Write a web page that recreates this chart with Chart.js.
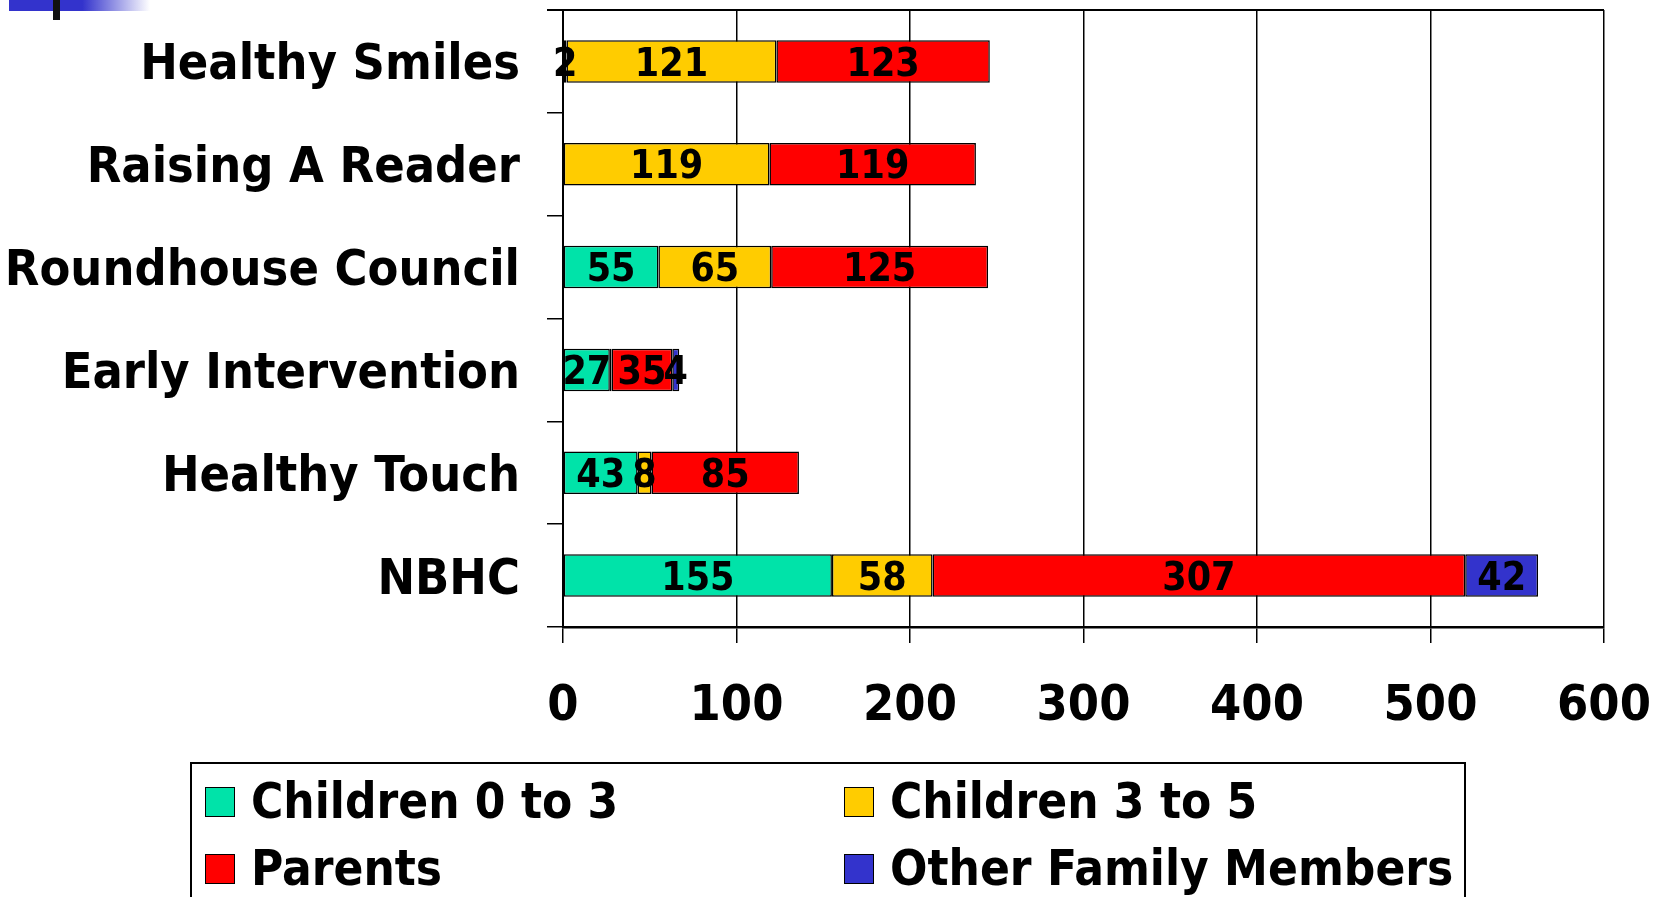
<!DOCTYPE html>
<html>
<head>
<meta charset="utf-8">
<script src="https://cdn.jsdelivr.net/npm/chart.js@4.4.1/dist/chart.umd.min.js"></script>
<style>
  html, body { margin: 0; padding: 0; background: #fff; overflow: hidden; }
  #wrap { position: relative; width: 1665px; height: 897px; }
  #myChart { position: absolute; left: 0; top: 0; }
  .deco-bar { position: absolute; left: 9px; top: 0; width: 141px; height: 11px;
    background: linear-gradient(to right, #3333cc 0, #3333cc 52%, #ffffff 100%); }
  .deco-tick { position: absolute; left: 53px; top: 0; width: 7px; height: 20px; background: #111; }
  #legend { position: absolute; left: 190px; top: 762px; width: 1276px; height: 200px;
    border: 2px solid #000; box-sizing: border-box; }
  .item { position: absolute; display: flex; align-items: center; line-height: 1;
    font-family: "DejaVu Sans Condensed", "DejaVu Sans", sans-serif; font-weight: bold; font-size: 49px; color: #000; }
  .swatch { width: 30px; height: 30px; border: 1.5px solid #000; box-sizing: border-box; margin-right: 16px; }
</style>
</head>
<body>
<div id="wrap">
  <canvas id="myChart" width="1665" height="897"></canvas>
  <div class="deco-bar"></div>
  <div class="deco-tick"></div>
  <div id="legend"></div>
</div>
<script>
// categories and series values
const categories = ['Healthy Smiles', 'Raising A Reader', 'Roundhouse Council', 'Early Intervention', 'Healthy Touch', 'NBHC'];
const children0to3 = [2, 0, 55, 27, 43, 155];
const children3to5 = [121, 119, 65, 1, 8, 58];
const parents = [123, 119, 125, 35, 85, 307];
const otherFamily = [0, 0, 0, 4, 0, 42];
const seriesNames = ['Children 0 to 3', 'Children 3 to 5', 'Parents', 'Other Family Members'];
const seriesColors = ['#00e3a9', '#ffcc00', '#ff0000', '#3333cc'];
// [series, category] whose value label is not shown in the picture
const hiddenLabels = [[1, 3]];
const xMin = 0, xMax = 600, xStep = 100;

const FONT = '"DejaVu Sans Condensed", "DejaVu Sans", sans-serif';

const seriesValues = [children0to3, children3to5, parents, otherFamily];

// value labels in the middle of each segment
const barLabels = {
    id: 'barLabels',
    afterDatasetsDraw(chart) {
        const ctx = chart.ctx;
        ctx.save();
        ctx.font = 'bold 39px ' + FONT;
        ctx.fillStyle = '#000';
        ctx.textAlign = 'center';
        ctx.textBaseline = 'middle';
        chart.data.datasets.forEach((ds, i) => {
            chart.getDatasetMeta(i).data.forEach((el, j) => {
                const v = ds.data[j];
                if (!v) return;
                if (hiddenLabels.some(h => h[0] === i && h[1] === j)) return;
                const p = el.getCenterPoint();
                ctx.fillText(String(v), p.x, p.y + 4);
            });
        });
        ctx.restore();
    }
};

// top edge of the plot frame
const frame = {
    id: 'frame',
    afterDraw(chart) {
        const a = chart.chartArea;
        const ctx = chart.ctx;
        ctx.save();
        ctx.strokeStyle = '#000';
        ctx.lineWidth = 2;
        ctx.beginPath();
        ctx.moveTo(a.left - 16, a.top);
        ctx.lineTo(a.right, a.top);
        ctx.stroke();
        ctx.restore();
    }
};

const ctx = document.getElementById('myChart').getContext('2d');
new Chart(ctx, {
    type: 'bar',
    data: {
        labels: categories,
        datasets: seriesValues.map((vals, i) => ({
            label: seriesNames[i],
            data: vals.map(v => v || null),
            backgroundColor: seriesColors[i],
            borderColor: '#000',
            borderWidth: 1.5,
            borderSkipped: false,
            barPercentage: 0.414,
            categoryPercentage: 1
        }))
    },
    options: {
        indexAxis: 'y',
        responsive: false,
        animation: false,
        layout: { padding: { top: 10, right: 61, left: 0, bottom: 0 } },
        plugins: {
            legend: { display: false },
            tooltip: { enabled: false }
        },
        scales: {
            x: {
                stacked: true,
                min: xMin,
                max: xMax,
                ticks: {
                    stepSize: xStep,
                    color: '#000',
                    padding: 34,
                    font: { family: FONT, size: 50, weight: 'bold' }
                },
                grid: { color: '#000', lineWidth: 1.5, tickLength: 16 },
                border: { color: '#000', width: 2.5 },
                afterFit(scale) {
                    scale.height = 270;
                    scale.paddingLeft = 0;
                    scale.paddingRight = 0;
                }
            },
            y: {
                stacked: true,
                ticks: {
                    color: '#000',
                    padding: 27,
                    labelOffset: 5,
                    font: { family: FONT, size: 50, weight: 'bold' }
                },
                grid: { drawOnChartArea: false, color: '#000', lineWidth: 1.5, tickLength: 16 },
                border: { color: '#000', width: 2 },
                afterFit(scale) {
                    scale.width = 563;
                    scale.paddingTop = 0;
                    scale.paddingBottom = 0;
                }
            }
        }
    },
    plugins: [barLabels, frame]
});

// legend in two columns, as in the picture
const legend = document.getElementById('legend');
const slots = [[13, 13], [652, 13], [13, 80], [652, 80]];
seriesNames.forEach((name, i) => {
    const item = document.createElement('div');
    item.className = 'item';
    item.style.left = slots[i][0] + 'px';
    item.style.top = slots[i][1] + 'px';
    const sw = document.createElement('span');
    sw.className = 'swatch';
    sw.style.background = seriesColors[i];
    item.appendChild(sw);
    item.appendChild(document.createTextNode(name));
    legend.appendChild(item);
});
</script>
</body>
</html>
